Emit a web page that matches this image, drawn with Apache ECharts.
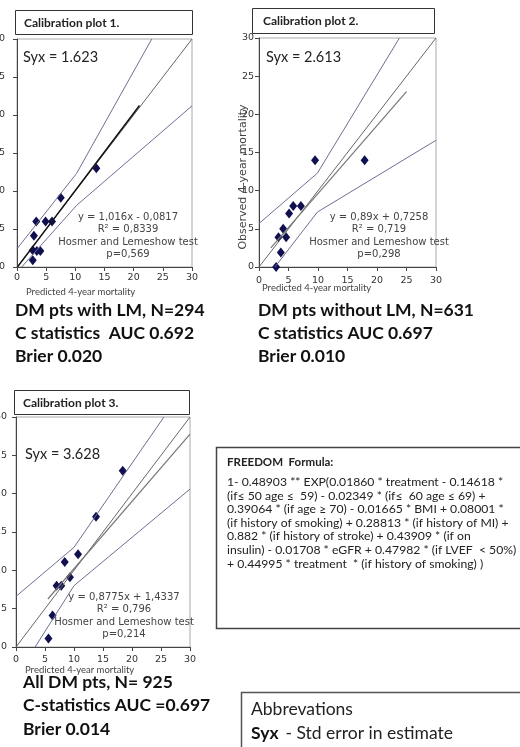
<!DOCTYPE html>
<html><head><meta charset="utf-8">
<script src="https://cdn.jsdelivr.net/npm/echarts@6/dist/echarts.min.js"></script>
<style>html,body{margin:0;padding:0;background:#fff}#c{width:520px;height:747px}</style>
</head><body><div id="c"></div>
<script>
// ---- data ----
const axisTicks = [0, 5, 10, 15, 20, 25, 30];

const plot1X = [2.7, 2.7, 3.4, 4.0, 2.9, 3.3, 4.9, 6.0, 7.5, 13.6];
const plot1Y = [0.9, 2.2, 2.1, 2.1, 4.1, 6.0, 6.0, 6.0, 9.1, 13.0];
const plot1Upper = [[0, 2.4], [10.2, 12.3], [23.1, 30]];
const plot1Lower = [[0.8, 0], [10.2, 8.1], [30, 21.2]];
const plot1Fit = { slope: 1.016, intercept: -0.0817, from: 0.1, to: 21 };

const plot2X = [9.5, 17.9, 5.8, 7.1, 5.1, 4.1, 3.3, 4.6, 3.7, 2.9];
const plot2Y = [14.0, 14.0, 8.0, 8.0, 7.0, 5.0, 3.9, 3.9, 1.9, 0.0];
const plot2Upper = [[0, 5.7], [9.9, 12.3], [23.8, 30]];
const plot2Lower = [[2.7, 0], [9.9, 7.2], [30, 16.6]];
const plot2Fit = { slope: 0.89, intercept: 0.7258, from: 2, to: 25 };

const plot3X = [18.4, 13.8, 10.7, 8.4, 9.3, 7.0, 7.8, 6.3, 5.6];
const plot3Y = [23.0, 17.0, 12.1, 11.1, 9.1, 8.0, 8.0, 4.1, 1.1];
const plot3Upper = [[0, 6.6], [10, 13.0], [25.5, 30]];
const plot3Lower = [[3.3, 0], [10, 8.0], [30, 20.6]];
const plot3Fit = { slope: 0.8775, intercept: 1.4337, from: 5.5, to: 30 };

const identityLine = [[0, 0], [30, 30]];

const titles = ['Calibration plot 1.', 'Calibration plot 2.', 'Calibration plot 3.'];
const syxTexts = ['Syx = 1.623', 'Syx = 2.613', 'Syx = 3.628'];
const eqTexts = [
  ['y = 1,016x - 0,0817', 'R² = 0,8339', 'Hosmer and Lemeshow test', 'p=0,569'],
  ['y = 0,89x + 0,7258', 'R² = 0,719', 'Hosmer and Lemeshow test', 'p=0,298'],
  ['y = 0,8775x + 1,4337', 'R² = 0,796', 'Hosmer and Lemeshow test', 'p=0,214']
];
const statTexts = [
  ['DM pts with LM, N=294', 'C statistics  AUC 0.692', 'Brier 0.020'],
  ['DM pts without LM, N=631', 'C statistics AUC 0.697', 'Brier 0.010'],
  ['All DM pts, N= 925', 'C-statistics AUC =0.697', 'Brier 0.014']
];
const xName = 'Predicted 4-year mortality';
const yName = 'Observed 4-year mortality';
const formulaTitle = 'FREEDOM  Formula:';
const formulaLines = [
  '1- 0.48903 ** EXP(0.01860 * treatment - 0.14618 *',
  '(if\u2264 50 age \u2264  59) - 0.02349 * (if\u2264  60 age \u2264 69) +',
  '0.39064 * (if age \u2265 70) - 0.01665 * BMI + 0.08001 *',
  '(if history of smoking) + 0.28813 * (if history of MI) +',
  '0.882 * (if history of stroke) + 0.43909 * (if on',
  'insulin) - 0.01708 * eGFR + 0.47982 * (if LVEF  < 50%)',
  '+ 0.44995 * treatment  * (if history of smoking) )'
];
const abbrevTitle = 'Abbrevations';
const abbrevKey = 'Syx';
const abbrevText = ' - Std error in estimate';

// ---- layout ----
const grids = [
  { left: 17, top: 39, width: 175, height: 228 },
  { left: 259, top: 38, width: 177, height: 229 },
  { left: 16, top: 417, width: 174, height: 230 }
];
const yLabelMargin = [12, 5, 9];
const xLabelMargin = [6, 9, 8];

const points = [[plot1X, plot1Y], [plot2X, plot2Y], [plot3X, plot3Y]];
const uppers = [plot1Upper, plot2Upper, plot3Upper];
const lowers = [plot1Lower, plot2Lower, plot3Lower];
const fits = [plot1Fit, plot2Fit, plot3Fit];

const tickFont = 'DejaVu Sans';
const calib = 'Lato';

const xAxes = [], yAxes = [], series = [];
grids.forEach((g, i) => {
  const axBase = {
    gridIndex: i, type: 'value',
    min: axisTicks[0], max: axisTicks[axisTicks.length - 1],
    interval: axisTicks[1] - axisTicks[0],
    splitLine: { show: false },
    axisLine: { show: true, onZero: false, lineStyle: { color: '#444', width: 1 } },
    axisTick: { show: true, inside: false, length: 4, lineStyle: { color: '#444' } }
  };
  xAxes.push(Object.assign({}, axBase, {
    axisLabel: { fontFamily: tickFont, fontSize: 9.5, color: '#333', margin: xLabelMargin[i], hideOverlap: false }
  }));
  yAxes.push(Object.assign({}, axBase, {
    axisLabel: { fontFamily: tickFont, fontSize: 9.5, color: '#333', margin: yLabelMargin[i], hideOverlap: false }
  }));
  const f = fits[i];
  series.push({
    type: 'line', xAxisIndex: i, yAxisIndex: i, data: identityLine,
    showSymbol: false, silent: true, lineStyle: { color: '#666', width: 1 }
  });
  series.push({
    type: 'line', xAxisIndex: i, yAxisIndex: i,
    data: [[f.from, f.slope * f.from + f.intercept], [f.to, f.slope * f.to + f.intercept]],
    showSymbol: false, silent: true, lineStyle: { color: i === 0 ? '#111' : '#777', width: i === 0 ? 1.5 : 1.2 }
  });
  series.push({
    type: 'line', xAxisIndex: i, yAxisIndex: i, data: uppers[i],
    showSymbol: false, silent: true, lineStyle: { color: '#6e6e92', width: 1 }
  });
  series.push({
    type: 'line', xAxisIndex: i, yAxisIndex: i, data: lowers[i],
    showSymbol: false, silent: true, lineStyle: { color: '#6e6e92', width: 1 }
  });
  series.push({
    type: 'scatter', xAxisIndex: i, yAxisIndex: i,
    data: points[i][0].map((x, k) => [x, points[i][1][k]]),
    symbol: 'diamond', symbolSize: [8, 10], itemStyle: { color: '#101050', opacity: 1 }
  });
});

function txt(text, x, y, opts) {
  opts = opts || {};
  const st = {
    text: text, x: 0, y: 0,
    fontFamily: opts.family || calib,
    fontSize: opts.size || 10,
    fontWeight: opts.weight || 'normal',
    fill: opts.color || '#111',
    align: opts.align || 'left', textAlign: opts.align || 'left',
    verticalAlign: 'middle', textVerticalAlign: 'middle'
  };
  const el = { type: 'text', x: x, y: y, style: st, z: 100, silent: true };
  if (opts.rotation) el.rotation = opts.rotation;
  return el;
}
function rect(x, y, w, h, stroke, lw) {
  return { type: 'rect', shape: { x: x, y: y, width: w, height: h },
    style: { fill: '#fff', stroke: stroke, lineWidth: lw }, z: 90, silent: true };
}

const gfx = [];
// title boxes
const titleBoxes = [[15.5, 10.5, 177, 24], [252.5, 8.5, 182, 25], [14.5, 390.5, 175, 24]];
const titlePos = [[24, 23], [263, 21], [23, 403]];
titleBoxes.forEach((b, i) => {
  gfx.push(rect(b[0], b[1], b[2], b[3], '#333', 1));
  gfx.push(txt(titles[i], titlePos[i][0], titlePos[i][1], { size: 12, weight: 'bold', color: '#222' }));
});
// Syx
const syxPos = [[23, 57], [266, 57], [25, 454]];
syxPos.forEach((p, i) => gfx.push(txt(syxTexts[i], p[0], p[1], { size: 14.5, color: '#222' })));
// equations
const eqPos = [[128, 217], [379, 217], [124, 597]];
eqPos.forEach((p, i) => {
  eqTexts[i].forEach((t, k) => {
    gfx.push(txt(t, p[0], p[1] + k * 12.6, { family: tickFont, size: 10, color: '#444', align: 'center' }));
  });
});
// axis names
const xNamePos = [[26, 292], [262, 288], [25, 670]];
xNamePos.forEach(p => gfx.push(txt(xName, p[0], p[1], { size: 9.5, color: '#444' })));
gfx.push(txt(yName, 243, 177, { family: tickFont, size: 11, color: '#444', align: 'center', rotation: Math.PI / 2 }));
// stats
const statPos = [[15, 310, 23], [258, 310, 23], [23, 682, 23.5]];
statPos.forEach((p, i) => {
  statTexts[i].forEach((t, k) => {
    gfx.push(txt(t, p[0], p[1] + k * p[2], { size: 17.5, weight: 'bold', color: '#111' }));
  });
});
// formula box
gfx.push(rect(216.5, 447.5, 310, 181, '#444', 1.5));
gfx.push(txt(formulaTitle, 227, 462, { size: 11.5, weight: 'bold', color: '#222' }));
formulaLines.forEach((t, k) => gfx.push(txt(t, 227, 482 + k * 13.6, { size: 12.2, color: '#222' })));
// abbreviations box
gfx.push(rect(241.5, 692.5, 300, 80, '#555', 1.5));
gfx.push(txt(abbrevTitle, 251, 709, { size: 17.5, color: '#222' }));
gfx.push(txt(abbrevKey, 251, 733, { size: 17.5, weight: 'bold', color: '#111' }));
gfx.push(txt(abbrevText, 281, 733, { size: 17.5, color: '#222' }));

const chart = echarts.init(document.getElementById('c'), null, { renderer: 'canvas' });
chart.setOption({
  backgroundColor: '#fff',
  animation: false,
  grid: grids.map(g => Object.assign({ show: true, borderColor: '#aaa', borderWidth: 1, backgroundColor: '#fff',
    containLabel: false, outerBoundsMode: 'none' }, g)),
  xAxis: xAxes,
  yAxis: yAxes,
  series: series,
  graphic: gfx
});
</script></body></html>
